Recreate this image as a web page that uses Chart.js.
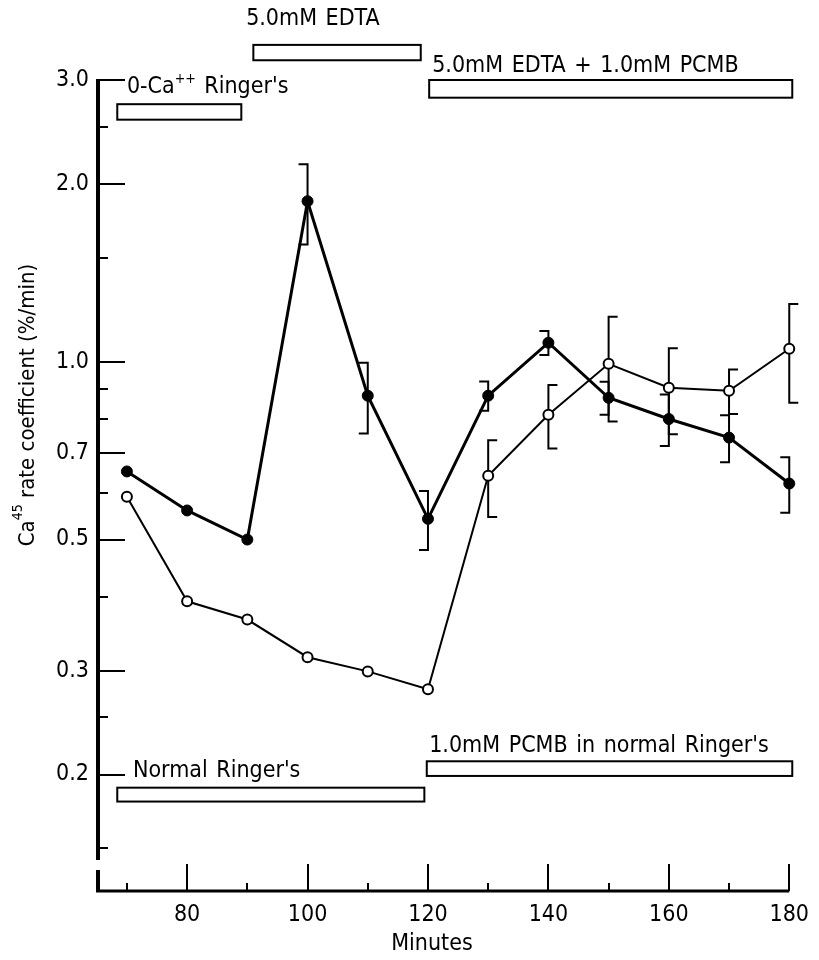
<!DOCTYPE html>
<html>
<head>
<meta charset="utf-8">
<script src="https://cdn.jsdelivr.net/npm/chart.js@4.4.0/dist/chart.umd.min.js"></script>
<style>
  html, body { margin: 0; padding: 0; background: #fff; }
  #wrap { width: 819px; height: 960px; }
</style>
</head>
<body>
<div id="wrap"><canvas id="rateChart" width="819" height="960"></canvas></div>
<script>
// sampling times (minutes)
const minutes = [70, 80, 90, 100, 110, 120, 130, 140, 150, 160, 170, 180];

// filled circles
const filledRate = [0.652, 0.56, 0.50, 1.87, 0.876, 0.542, 0.876, 1.077, 0.869, 0.80, 0.744, 0.622];
const filledErr = [null, null, null, 0.29, 0.12, 0.062, 0.05, 0.05, 0.056, 0.08, 0.068, 0.067];

// open circles
const openRate = [0.591, 0.393, 0.366, 0.316, 0.299, 0.279, 0.641, 0.813, 0.992, 0.904, 0.893, 1.052];
const openErr = [null, null, null, null, null, null, 0.095, 0.10, 0.20, 0.15, 0.077, 0.20];

// axis ticks
const xTicks = [70, 80, 90, 100, 110, 120, 130, 140, 150, 160, 170, 180];
const xLabelled = [80, 100, 120, 140, 160, 180];
const yTicks = [0.15, 0.2, 0.25, 0.3, 0.4, 0.5, 0.6, 0.7, 0.8, 0.9, 1.0, 1.5, 2.0, 2.5, 3.0];
const yLabelled = [0.2, 0.3, 0.5, 0.7, 1.0, 2.0, 3.0];

// bath solutions and when they were applied (minutes)
const treatmentLabels = ['5.0mM EDTA', '5.0mM EDTA + 1.0mM PCMB', "0-Ca^{++} Ringer's", "1.0mM PCMB in normal Ringer's", "Normal Ringer's"];
const treatmentStart = [91.0, 120.2, 68.4, 119.8, 68.4];
const treatmentEnd = [118.8, 180.5, 89.0, 180.5, 119.4];

const FONT = "'DejaVu Sans Condensed', 'Liberation Sans Narrow', sans-serif";
const TEXT_SIZE = 23;

// text with ^{...} parts raised as superscripts
function richParts(str) {
  return str.split(/(\^\{[^}]*\})/).filter(s => s.length).map(p =>
    p.startsWith('^{') ? { t: p.slice(2, -1), sup: true } : { t: p, sup: false });
}

function drawRich(ctx, str, x, y, size) {
  let cx = x;
  richParts(str).forEach(p => {
    ctx.font = (p.sup ? Math.round(size * 0.62) : size) + 'px ' + FONT;
    ctx.fillText(p.t, cx, p.sup ? y - size * 0.42 : y);
    cx += ctx.measureText(p.t).width;
  });
  return cx - x;
}

function richWidth(ctx, str, size) {
  let w = 0;
  richParts(str).forEach(p => {
    ctx.font = (p.sup ? Math.round(size * 0.62) : size) + 'px ' + FONT;
    w += ctx.measureText(p.t).width;
  });
  return w;
}

const decor = {
  id: 'decor',
  beforeDatasetsDraw(chart) {
    const { ctx, scales: { x, y } } = chart;
    ctx.save();
    ctx.strokeStyle = '#000';
    ctx.lineWidth = 2;
    // brackets: filled series opens to the left, open series to the right
    [[filledRate, filledErr, -1], [openRate, openErr, 1]].forEach(([vals, errs, side]) => {
      vals.forEach((v, i) => {
        if (errs[i] == null) return;
        const px = x.getPixelForValue(minutes[i]);
        const top = y.getPixelForValue(v + errs[i]);
        const bot = y.getPixelForValue(v - errs[i]);
        ctx.beginPath();
        ctx.moveTo(px + side * 9, top);
        ctx.lineTo(px, top);
        ctx.lineTo(px, bot);
        ctx.lineTo(px + side * 9, bot);
        ctx.stroke();
      });
    });
    ctx.restore();
  },
  afterDraw(chart, args, opts) {
    const { ctx, chartArea: { left, right, top, bottom }, scales: { x, y } } = chart;
    ctx.save();
    ctx.strokeStyle = '#000';
    ctx.fillStyle = '#000';

    // y axis with a break near the bottom, then the corner
    ctx.lineWidth = 4;
    ctx.beginPath();
    ctx.moveTo(left, top - 1);
    ctx.lineTo(left, bottom - 31);
    ctx.stroke();
    ctx.beginPath();
    ctx.moveTo(left, bottom - 21);
    ctx.lineTo(left, bottom);
    ctx.stroke();
    ctx.lineWidth = 3;
    ctx.beginPath();
    ctx.moveTo(left - 2, bottom);
    ctx.lineTo(right, bottom);
    ctx.stroke();

    // inward ticks
    ctx.lineWidth = 2;
    yTicks.forEach(v => {
      const py = Math.round(y.getPixelForValue(v));
      const len = yLabelled.includes(v) ? 27 : 10;
      ctx.beginPath();
      ctx.moveTo(left, py);
      ctx.lineTo(left + len, py);
      ctx.stroke();
    });
    xTicks.forEach(v => {
      const px = Math.round(x.getPixelForValue(v));
      const len = xLabelled.includes(v) ? 27 : 8;
      ctx.beginPath();
      ctx.moveTo(px, bottom);
      ctx.lineTo(px, bottom - len);
      ctx.stroke();
    });

    // treatment bars and their labels
    ctx.textBaseline = 'alphabetic';
    ctx.textAlign = 'left';
    ctx.wordSpacing = '2px';
    treatmentLabels.forEach((label, i) => {
      const row = opts.rows[i];
      const x0 = x.getPixelForValue(treatmentStart[i]);
      const x1 = x.getPixelForValue(treatmentEnd[i]);
      const y0 = y.getPixelForValue(row.barTop);
      const y1 = y.getPixelForValue(row.barBottom);
      ctx.lineWidth = 2;
      ctx.fillStyle = '#fff';
      ctx.fillRect(x0, y0, x1 - x0, y1 - y0);
      ctx.strokeRect(x0, y0, x1 - x0, y1 - y0);
      ctx.fillStyle = '#000';
      drawRich(ctx, label, x.getPixelForValue(row.textAt), y.getPixelForValue(row.textY), TEXT_SIZE);
    });
    ctx.wordSpacing = '0px';

    // axis titles
    ctx.font = TEXT_SIZE + 'px ' + FONT;
    ctx.textAlign = 'center';
    ctx.textBaseline = 'middle';
    ctx.fillText('Minutes', 432, 944);

    const yTitle = 'Ca^{45} rate coefficient (%/min)';
    ctx.translate(28, 405);
    ctx.rotate(-Math.PI / 2);
    ctx.textAlign = 'left';
    ctx.textBaseline = 'middle';
    const w = richWidth(ctx, yTitle, 22);
    drawRich(ctx, yTitle, -w / 2, 0, 22);
    ctx.restore();
  }
};

new Chart(document.getElementById('rateChart'), {
  type: 'line',
  data: {
    datasets: [
      {
        label: 'filled',
        data: minutes.map((m, i) => ({ x: m, y: filledRate[i] })),
        borderColor: '#000',
        borderWidth: 3,
        backgroundColor: '#000',
        pointBackgroundColor: '#000',
        pointBorderColor: '#000',
        pointRadius: 5.5,
        pointBorderWidth: 1,
        tension: 0,
        clip: false
      },
      {
        label: 'open',
        data: minutes.map((m, i) => ({ x: m, y: openRate[i] })),
        borderColor: '#000',
        borderWidth: 2,
        pointBackgroundColor: '#fff',
        pointBorderColor: '#000',
        pointRadius: 5,
        pointBorderWidth: 2,
        tension: 0,
        clip: false
      }
    ]
  },
  options: {
    responsive: false,
    animation: false,
    devicePixelRatio: 1,
    layout: { padding: { top: 80, right: 22, left: 0, bottom: 0 } },
    plugins: {
      legend: { display: false },
      tooltip: { enabled: false },
      decor: {
        rows: [
          { textAt: 89.8, textY: 3.72, barTop: 3.44, barBottom: 3.24 },
          { textAt: 120.7, textY: 3.095, barTop: 3.0, barBottom: 2.80 },
          { textAt: 70.0, textY: 2.85, barTop: 2.73, barBottom: 2.57 },
          { textAt: 120.2, textY: 0.218, barTop: 0.2106, barBottom: 0.1989 },
          { textAt: 71.0, textY: 0.198, barTop: 0.190, barBottom: 0.180 }
        ]
      }
    },
    scales: {
      x: {
        type: 'linear',
        min: 65.2,
        max: 180,
        afterFit: s => { s.height = 69; },
        afterBuildTicks: s => { s.ticks = xTicks.map(v => ({ value: v })); },
        grid: { display: false, drawTicks: false },
        border: { display: false },
        ticks: {
          autoSkip: false,
          maxRotation: 0,
          padding: 10,
          color: '#000',
          font: { family: FONT, size: TEXT_SIZE },
          callback: v => xLabelled.includes(v) ? String(v) : ''
        }
      },
      y: {
        type: 'logarithmic',
        min: 0.127,
        max: 3.0,
        afterFit: s => { s.width = 98; },
        afterBuildTicks: s => { s.ticks = yTicks.map(v => ({ value: v })); },
        grid: { display: false, drawTicks: false },
        border: { display: false },
        ticks: {
          autoSkip: false,
          padding: 9,
          color: '#000',
          font: { family: FONT, size: TEXT_SIZE },
          callback: v => yLabelled.includes(v) ? v.toFixed(1) : ''
        }
      }
    }
  },
  plugins: [decor]
});
</script>
</body>
</html>
